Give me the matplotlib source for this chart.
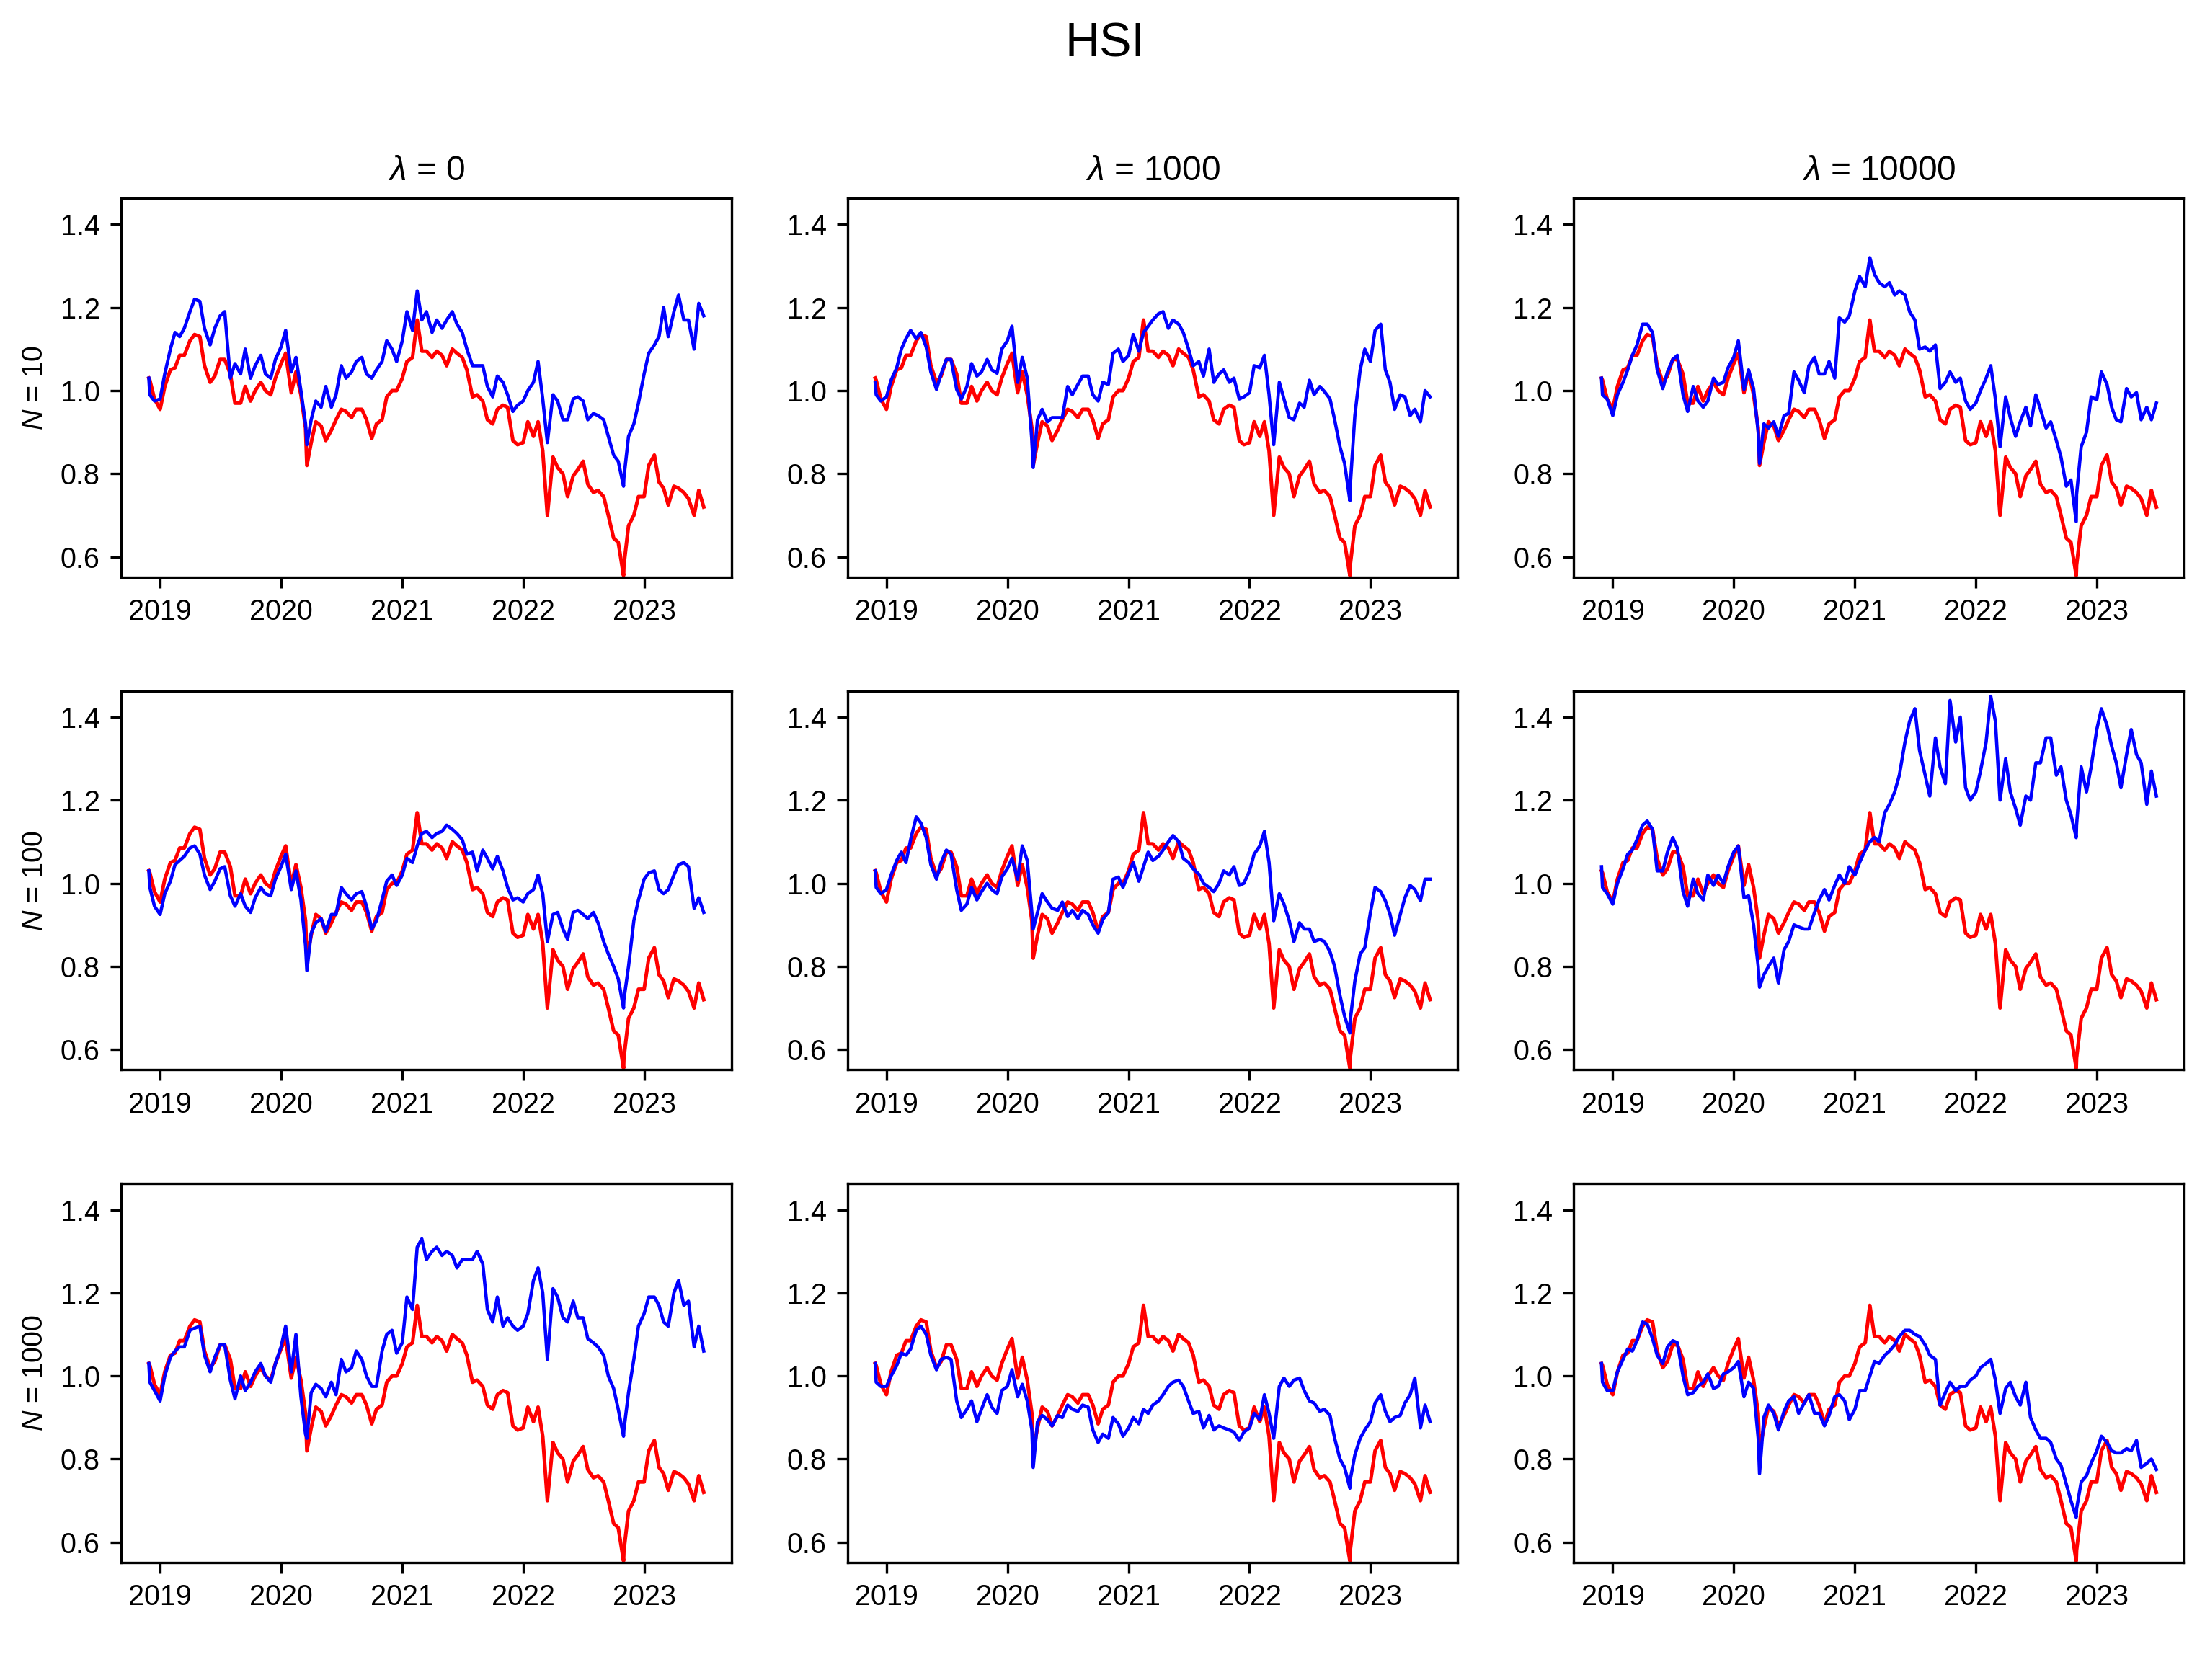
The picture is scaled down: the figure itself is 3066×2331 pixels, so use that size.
import matplotlib
matplotlib.use('Agg')
import matplotlib.pyplot as plt
import matplotlib.dates as mdates
import pandas as pd

plt.rcParams['font.family'] = ['Liberation Sans', 'DejaVu Sans']
plt.rcParams['mathtext.fontset'] = 'custom'
plt.rcParams['mathtext.it'] = 'Liberation Sans:italic'
plt.rcParams['mathtext.rm'] = 'Liberation Sans'

# 日期: 半月一个点, 加上几个关键日
days = ['2018-11-28', '2018-12-01', '2018-12-15']
for y in range(2019, 2024):
    for m in range(1, 13):
        if y == 2023 and m > 6:
            break
        for d in (1, 15):
            days.append(f'{y}-{m:02d}-{d:02d}')
days += ['2020-03-19', '2022-10-31', '2023-06-30']
dates = pd.to_datetime(sorted(days))

lambdas = [0, 1000, 10000]
Ns = [10, 100, 1000]

# HSI 指数 (归一化)
hsi = [1.03, 1.025, 0.98,
       0.955, 1.01, 1.05, 1.055, 1.085, 1.085, 1.12, 1.135, 1.13, 1.06, 1.02, 1.035, 1.075, 1.075, 1.04, 0.97, 0.97, 1.01, 0.975, 1.0, 1.02, 1.0, 0.99, 1.03,
       1.065, 1.09, 0.995, 1.045, 0.99, 0.91, 0.82, 0.875, 0.925, 0.915, 0.88, 0.905, 0.93, 0.955, 0.95, 0.935, 0.955, 0.955, 0.93, 0.885, 0.92, 0.93, 0.985, 1.0, 1.0,
       1.03, 1.07, 1.08, 1.17, 1.095, 1.095, 1.08, 1.095, 1.085, 1.06, 1.10, 1.09, 1.08, 1.05, 0.985, 0.99, 0.975, 0.93, 0.92, 0.955, 0.965, 0.96, 0.88, 0.87,
       0.875, 0.925, 0.89, 0.925, 0.855, 0.70, 0.84, 0.815, 0.80, 0.745, 0.795, 0.81, 0.83, 0.775, 0.755, 0.76, 0.745, 0.70, 0.645, 0.635, 0.555, 0.58, 0.675, 0.70, 0.745,
       0.745, 0.82, 0.845, 0.78, 0.765, 0.725, 0.77, 0.765, 0.755, 0.74, 0.70, 0.76, 0.72]

# 组合净值: N = 10
b_10_0 = [1.03, 0.99, 0.975,
          0.98, 1.04, 1.10, 1.14, 1.13, 1.15, 1.19, 1.22, 1.215, 1.15, 1.11, 1.15, 1.18, 1.19, 1.03, 1.065, 1.04, 1.10, 1.03, 1.06, 1.085, 1.04, 1.03, 1.075,
          1.105, 1.145, 1.045, 1.08, 1.00, 0.92, 0.87, 0.93, 0.975, 0.96, 1.01, 0.96, 0.99, 1.06, 1.03, 1.045, 1.07, 1.08, 1.04, 1.03, 1.05, 1.07, 1.12, 1.10, 1.07,
          1.12, 1.19, 1.145, 1.24, 1.17, 1.19, 1.14, 1.17, 1.15, 1.17, 1.19, 1.16, 1.14, 1.10, 1.06, 1.06, 1.06, 1.01, 0.985, 1.035, 1.02, 0.99, 0.95, 0.965,
          0.975, 1.0, 1.02, 1.07, 0.98, 0.875, 0.99, 0.975, 0.93, 0.93, 0.98, 0.985, 0.975, 0.93, 0.945, 0.94, 0.93, 0.89, 0.845, 0.83, 0.77, 0.79, 0.89, 0.92, 0.97,
          1.04, 1.09, 1.11, 1.13, 1.20, 1.13, 1.19, 1.23, 1.17, 1.17, 1.10, 1.21, 1.18]
b_10_1000 = [1.02, 0.99, 0.975,
             0.985, 1.025, 1.055, 1.10, 1.125, 1.145, 1.125, 1.14, 1.105, 1.045, 1.003, 1.04, 1.075, 1.075, 1.003, 0.98, 1.01, 1.065, 1.035, 1.045, 1.075, 1.05, 1.042, 1.10,
             1.12, 1.155, 1.02, 1.08, 1.03, 0.88, 0.815, 0.93, 0.955, 0.925, 0.935, 0.935, 0.935, 1.01, 0.99, 1.015, 1.035, 1.035, 0.99, 0.975, 1.02, 1.015, 1.09, 1.10, 1.07,
             1.085, 1.135, 1.095, 1.14, 1.155, 1.17, 1.185, 1.19, 1.15, 1.17, 1.16, 1.14, 1.10, 1.06, 1.07, 1.035, 1.10, 1.02, 1.04, 1.05, 1.02, 1.03, 0.98, 0.985,
             0.995, 1.06, 1.055, 1.085, 0.99, 0.87, 1.02, 0.98, 0.935, 0.93, 0.97, 0.96, 1.025, 0.99, 1.01, 0.998, 0.98, 0.93, 0.865, 0.825, 0.735, 0.77, 0.94, 1.05, 1.10,
             1.07, 1.145, 1.16, 1.05, 1.02, 0.955, 0.99, 0.985, 0.94, 0.955, 0.925, 1.0, 0.985]
b_10_10000 = [1.03, 0.99, 0.98,
              0.94, 0.99, 1.02, 1.05, 1.085, 1.11, 1.16, 1.16, 1.14, 1.05, 1.005, 1.045, 1.075, 1.085, 0.99, 0.95, 1.01, 0.975, 0.96, 0.975, 1.03, 1.015, 1.02, 1.055,
              1.08, 1.12, 1.003, 1.05, 1.005, 0.90, 0.825, 0.92, 0.91, 0.925, 0.89, 0.94, 0.945, 1.045, 1.025, 0.995, 1.06, 1.08, 1.04, 1.04, 1.07, 1.03, 1.175, 1.165, 1.18,
              1.24, 1.275, 1.25, 1.32, 1.28, 1.26, 1.25, 1.26, 1.23, 1.24, 1.23, 1.19, 1.17, 1.10, 1.105, 1.095, 1.11, 1.005, 1.02, 1.045, 1.02, 1.03, 0.975, 0.955,
              0.97, 1.0, 1.03, 1.06, 0.98, 0.865, 0.985, 0.935, 0.89, 0.925, 0.96, 0.915, 0.99, 0.955, 0.91, 0.925, 0.88, 0.84, 0.77, 0.785, 0.685, 0.75, 0.865, 0.90, 0.985,
              0.978, 1.045, 1.015, 0.96, 0.93, 0.925, 1.005, 0.985, 0.995, 0.93, 0.96, 0.93, 0.97]

# N = 100
b_100_0 = [1.03, 0.99, 0.945,
           0.925, 0.975, 1.005, 1.045, 1.055, 1.065, 1.085, 1.09, 1.07, 1.02, 0.985, 1.005, 1.035, 1.04, 0.97, 0.945, 0.975, 0.945, 0.93, 0.965, 0.99, 0.975, 0.97, 1.01,
           1.04, 1.07, 0.985, 1.03, 0.96, 0.85, 0.79, 0.88, 0.905, 0.915, 0.885, 0.925, 0.925, 0.99, 0.975, 0.96, 0.975, 0.98, 0.945, 0.89, 0.91, 0.96, 1.005, 1.02, 0.995,
           1.02, 1.06, 1.05, 1.09, 1.12, 1.125, 1.11, 1.12, 1.125, 1.14, 1.13, 1.12, 1.105, 1.07, 1.075, 1.03, 1.08, 1.06, 1.035, 1.065, 1.03, 0.99, 0.96, 0.965,
           0.955, 0.975, 0.985, 1.02, 0.975, 0.86, 0.925, 0.93, 0.89, 0.865, 0.93, 0.935, 0.925, 0.915, 0.93, 0.905, 0.86, 0.83, 0.80, 0.77, 0.70, 0.72, 0.80, 0.91, 0.96,
           1.01, 1.025, 1.03, 0.985, 0.975, 0.985, 1.02, 1.045, 1.05, 1.04, 0.94, 0.965, 0.93]
b_100_1000 = [1.03, 0.99, 0.975,
              0.985, 1.02, 1.055, 1.075, 1.05, 1.105, 1.16, 1.145, 1.11, 1.045, 1.01, 1.05, 1.08, 1.07, 0.985, 0.935, 0.95, 0.99, 0.96, 0.98, 1.0, 0.985, 0.975, 1.015,
              1.035, 1.06, 1.01, 1.09, 1.055, 0.93, 0.89, 0.93, 0.975, 0.955, 0.94, 0.935, 0.955, 0.92, 0.935, 0.915, 0.935, 0.925, 0.90, 0.88, 0.913, 0.93, 1.01, 1.015, 0.99,
              1.025, 1.05, 1.005, 1.04, 1.075, 1.055, 1.065, 1.08, 1.10, 1.115, 1.10, 1.06, 1.05, 1.035, 1.022, 1.0, 0.99, 0.98, 1.0, 1.03, 1.02, 1.04, 0.995, 1.0,
              1.03, 1.07, 1.09, 1.125, 1.05, 0.91, 0.975, 0.95, 0.91, 0.86, 0.905, 0.89, 0.89, 0.86, 0.865, 0.86, 0.835, 0.80, 0.73, 0.68, 0.64, 0.67, 0.765, 0.83, 0.845,
              0.93, 0.99, 0.98, 0.958, 0.926, 0.875, 0.925, 0.965, 0.995, 0.985, 0.958, 1.01, 1.01]
b_100_10000 = [1.04, 0.99, 0.975,
               0.95, 1.0, 1.035, 1.07, 1.08, 1.105, 1.14, 1.15, 1.13, 1.03, 1.03, 1.075, 1.11, 1.085, 0.98, 0.945, 1.01, 0.975, 0.96, 1.02, 0.995, 1.02, 1.0, 1.04,
               1.075, 1.09, 0.965, 0.97, 0.90, 0.80, 0.75, 0.78, 0.80, 0.82, 0.76, 0.84, 0.86, 0.90, 0.895, 0.89, 0.89, 0.93, 0.96, 0.985, 0.96, 0.995, 1.02, 1.0, 1.04,
               1.02, 1.05, 1.08, 1.10, 1.11, 1.10, 1.17, 1.19, 1.22, 1.26, 1.34, 1.39, 1.42, 1.32, 1.26, 1.21, 1.35, 1.28, 1.24, 1.44, 1.34, 1.40, 1.23, 1.20,
               1.22, 1.27, 1.34, 1.45, 1.39, 1.20, 1.30, 1.22, 1.18, 1.14, 1.21, 1.20, 1.29, 1.29, 1.35, 1.35, 1.26, 1.28, 1.20, 1.165, 1.11, 1.14, 1.28, 1.22, 1.28,
               1.37, 1.42, 1.38, 1.33, 1.29, 1.23, 1.31, 1.37, 1.31, 1.29, 1.19, 1.27, 1.21]

# N = 1000
b_1000_0 = [1.03, 0.985, 0.965,
            0.94, 1.0, 1.045, 1.06, 1.07, 1.07, 1.11, 1.115, 1.12, 1.05, 1.01, 1.045, 1.075, 1.075, 0.99, 0.945, 1.0, 0.965, 0.985, 1.01, 1.03, 1.0, 0.985, 1.03,
            1.07, 1.12, 1.01, 1.10, 0.95, 0.86, 0.85, 0.96, 0.98, 0.97, 0.95, 0.985, 0.955, 1.04, 1.01, 1.02, 1.06, 1.04, 1.0, 0.975, 0.975, 1.06, 1.10, 1.11, 1.055,
            1.08, 1.19, 1.16, 1.31, 1.33, 1.28, 1.30, 1.31, 1.29, 1.30, 1.29, 1.26, 1.28, 1.28, 1.28, 1.30, 1.27, 1.16, 1.13, 1.19, 1.12, 1.14, 1.12, 1.11,
            1.12, 1.15, 1.23, 1.26, 1.20, 1.04, 1.21, 1.19, 1.14, 1.13, 1.18, 1.14, 1.14, 1.09, 1.08, 1.07, 1.05, 1.00, 0.97, 0.92, 0.855, 0.87, 0.96, 1.04, 1.12,
            1.15, 1.19, 1.19, 1.17, 1.13, 1.12, 1.20, 1.23, 1.17, 1.18, 1.07, 1.12, 1.06]
b_1000_1000 = [1.03, 0.985, 0.975,
               0.975, 1.0, 1.025, 1.055, 1.05, 1.065, 1.11, 1.12, 1.10, 1.05, 1.015, 1.04, 1.045, 1.04, 0.94, 0.90, 0.92, 0.94, 0.89, 0.92, 0.955, 0.925, 0.91, 0.965,
               0.975, 1.015, 0.95, 0.98, 0.94, 0.87, 0.78, 0.89, 0.905, 0.895, 0.88, 0.905, 0.90, 0.93, 0.92, 0.915, 0.93, 0.925, 0.87, 0.84, 0.86, 0.85, 0.90, 0.885, 0.855,
               0.875, 0.90, 0.885, 0.92, 0.91, 0.93, 0.94, 0.955, 0.975, 0.985, 0.99, 0.975, 0.94, 0.91, 0.915, 0.875, 0.905, 0.87, 0.88, 0.875, 0.87, 0.865, 0.845, 0.865,
               0.875, 0.91, 0.895, 0.955, 0.91, 0.85, 0.975, 0.995, 0.975, 0.99, 0.995, 0.965, 0.94, 0.935, 0.915, 0.92, 0.905, 0.85, 0.80, 0.78, 0.73, 0.75, 0.81, 0.85, 0.87,
               0.89, 0.935, 0.955, 0.915, 0.89, 0.90, 0.905, 0.935, 0.955, 0.995, 0.875, 0.93, 0.89]
b_1000_10000 = [1.03, 0.985, 0.965,
                0.965, 1.01, 1.04, 1.065, 1.06, 1.085, 1.13, 1.125, 1.09, 1.05, 1.03, 1.07, 1.085, 1.08, 1.0, 0.955, 0.96, 0.975, 0.985, 1.005, 0.97, 0.975, 1.005, 1.01,
                1.02, 1.035, 0.95, 0.985, 0.97, 0.85, 0.765, 0.90, 0.93, 0.91, 0.87, 0.915, 0.94, 0.95, 0.91, 0.935, 0.955, 0.91, 0.91, 0.88, 0.905, 0.95, 0.955, 0.94, 0.895,
                0.92, 0.965, 0.965, 1.0, 1.035, 1.03, 1.05, 1.06, 1.075, 1.095, 1.11, 1.11, 1.10, 1.095, 1.075, 1.05, 1.04, 0.93, 0.96, 0.985, 0.965, 0.975, 0.975, 0.99,
                1.0, 1.02, 1.03, 1.04, 0.99, 0.91, 0.97, 0.985, 0.95, 0.93, 0.985, 0.90, 0.87, 0.85, 0.85, 0.84, 0.80, 0.785, 0.74, 0.70, 0.66, 0.68, 0.745, 0.76, 0.79,
                0.82, 0.855, 0.84, 0.82, 0.815, 0.815, 0.825, 0.82, 0.845, 0.78, 0.79, 0.80, 0.775]

port = [[b_10_0, b_10_1000, b_10_10000],
        [b_100_0, b_100_1000, b_100_10000],
        [b_1000_0, b_1000_1000, b_1000_10000]]

fig, axes = plt.subplots(3, 3, figsize=(10.22, 7.77))
fig.subplots_adjust(left=0.0548, right=0.9883, top=0.882, bottom=0.0699,
                    wspace=0.19, hspace=0.30)

for i, N in enumerate(Ns):
    for j, lam in enumerate(lambdas):
        ax = axes[i, j]
        ax.plot(dates, hsi, color='red', lw=1.2)
        ax.plot(dates, port[i][j], color='blue', lw=1.1)
        ax.set_ylim(0.551, 1.463)
        ax.set_yticks([0.6, 0.8, 1.0, 1.2, 1.4])
        ax.xaxis.set_major_locator(mdates.YearLocator())
        ax.xaxis.set_major_formatter(mdates.DateFormatter('%Y'))
        ax.tick_params(labelsize=9.5)
        if i == 0:
            ax.set_title(rf'$\lambda$ = {lam}', fontsize=11.5)
        if j == 0:
            ax.set_ylabel(rf'$N$ = {N}', fontsize=9.5)

fig.suptitle('HSI', fontsize=16, y=0.9665, va='baseline')
fig.savefig('out.png', dpi=300)
